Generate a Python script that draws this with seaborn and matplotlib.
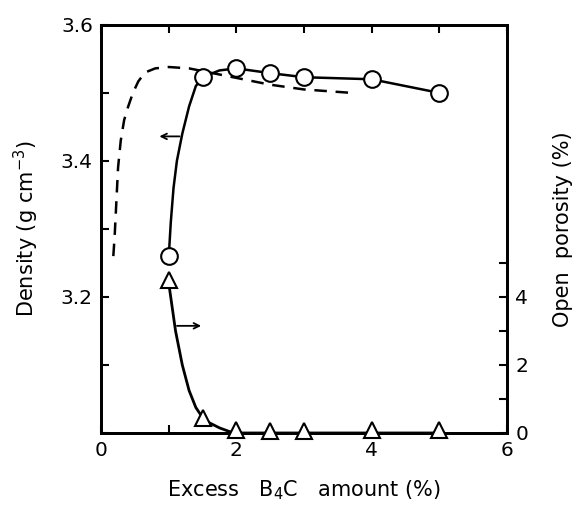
import numpy as np
import pandas as pd
import matplotlib
matplotlib.use("Agg")
import matplotlib.pyplot as plt
import seaborn as sns

# measured points
excess = [1.0, 1.5, 2.0, 2.5, 3.0, 4.0, 5.0]
density = [3.26, 3.523, 3.536, 3.529, 3.523, 3.520, 3.500]
porosity = [4.5, 0.45, 0.08, 0.06, 0.06, 0.08, 0.1]

# hand-drawn curve through density points
dens_curve_x = [1.0, 1.03, 1.07, 1.12, 1.2, 1.3, 1.4, 1.5, 1.75, 2.0, 2.5, 3.0, 4.0, 5.0]
dens_curve_y = [3.26, 3.31, 3.36, 3.40, 3.44, 3.48, 3.51, 3.523, 3.533, 3.536, 3.529, 3.523, 3.520, 3.500]

# hand-drawn curve through porosity points
por_curve_x = [1.0, 1.05, 1.1, 1.2, 1.3, 1.4, 1.5, 1.6, 1.75, 1.9, 2.0, 5.0]
por_curve_y = [4.4, 3.7, 3.0, 2.0, 1.25, 0.75, 0.45, 0.3, 0.15, 0.04, 0.0, 0.0]

# dashed reference curve
dash_x = [0.18, 0.2, 0.22, 0.25, 0.29, 0.34, 0.40, 0.47, 0.55, 0.65, 0.8, 1.0, 1.3, 1.6, 2.0, 2.5, 3.0, 3.7]
dash_y = [3.26, 3.29, 3.33, 3.39, 3.43, 3.46, 3.48, 3.50, 3.517, 3.53, 3.536, 3.538, 3.536, 3.53, 3.522, 3.512, 3.505, 3.50]

sns.set_style("ticks", {'axes.edgecolor': 'black', 'xtick.color': 'black',
                        'ytick.color': 'black', 'text.color': 'black',
                        'axes.labelcolor': 'black'})
plt.rcParams['font.family'] = ['DejaVu Sans']

fig = plt.figure(figsize=(5.78, 5.07), dpi=100)
ax = fig.add_axes([0.175, 0.146, 0.702, 0.805])
ax2 = ax.twinx()

sns.lineplot(x=dash_x, y=dash_y, ax=ax, color='black', lw=1.8, linestyle=(0, (5, 3.5)), sort=False)
sns.lineplot(x=dens_curve_x, y=dens_curve_y, ax=ax, color='black', lw=1.8, sort=False)
ax.plot(excess, density, 'o', ms=12, mfc='white', mec='black', mew=1.5, clip_on=False, zorder=5)

sns.lineplot(x=por_curve_x, y=por_curve_y, ax=ax2, color='black', lw=2, sort=False)
ax2.plot(excess, porosity, '^', ms=11, mfc='white', mec='black', mew=1.5, clip_on=False, zorder=5)

# direction arrows
ax.annotate('', xy=(0.82, 3.436), xytext=(1.2, 3.436),
            arrowprops=dict(arrowstyle='->', color='black', lw=1.3))
ax2.annotate('', xy=(1.52, 3.15), xytext=(1.08, 3.15),
             arrowprops=dict(arrowstyle='->', color='black', lw=1.3))

ax.set_xlim(0, 6)
ax.set_ylim(3.0, 3.6)
ax2.set_ylim(0, 12)

ax.set_xticks([0, 1, 2, 3, 4, 5, 6])
ax.set_xticklabels(['0', '', '2', '', '4', '', '6'])
ax.set_yticks([3.0, 3.1, 3.2, 3.3, 3.4, 3.5, 3.6])
ax.set_yticklabels(['', '', '3.2', '', '3.4', '', '3.6'])
ax2.set_yticks([0, 1, 2, 3, 4, 5])
ax2.set_yticklabels(['0', '', '2', '', '4', ''])

ax.tick_params(axis='both', direction='in', length=6, width=1.5, labelsize=14.5, top=True, pad=6)
ax.tick_params(axis='y', right=False)
ax2.tick_params(axis='y', direction='in', length=6, width=1.5, labelsize=14.5, pad=6)

for a in (ax, ax2):
    for s in a.spines.values():
        s.set_linewidth(2)
        s.set_color('black')
        s.set_visible(True)

ax.set_xlabel(r'Excess   $\mathregular{B_4C}$   amount (%)', fontsize=15, labelpad=13)
ax.set_ylabel(r'Density (g cm$\mathregular{^{-3}}$)', fontsize=15, labelpad=14)
ax2.set_ylabel('Open  porosity (%)', fontsize=15, labelpad=18)

fig.savefig('out.png', dpi=100)
